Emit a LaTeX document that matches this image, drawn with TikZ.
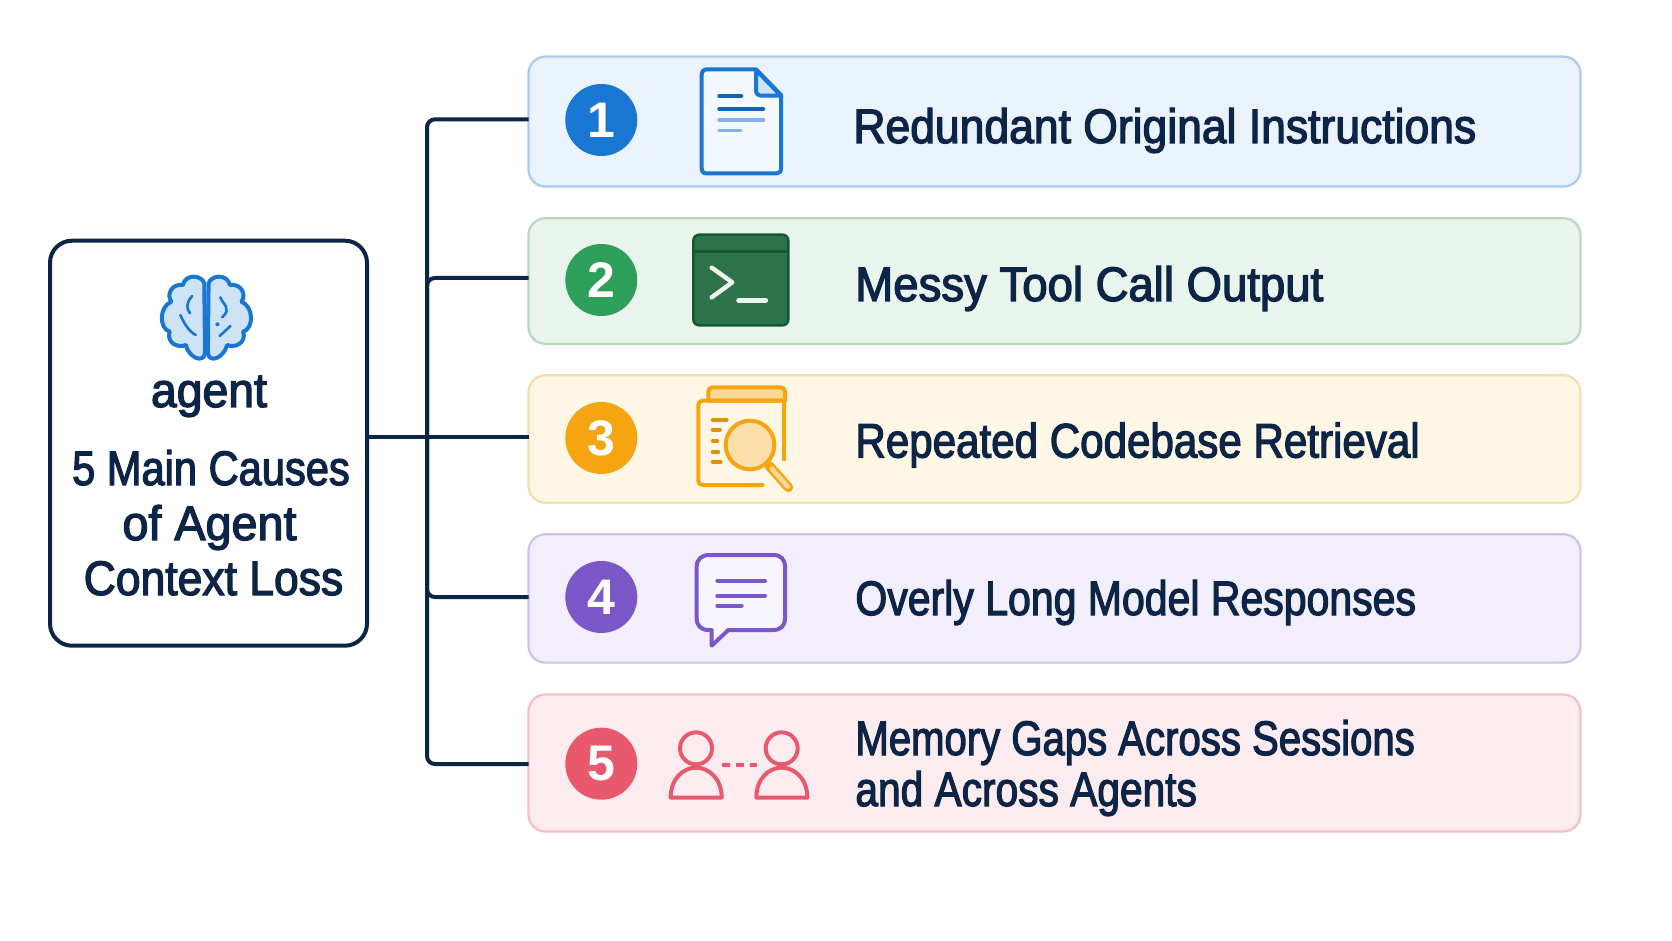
\documentclass[tikz,border=0pt]{standalone}
\usepackage{fontspec}
\setmainfont[FakeBold=2.6,FakeStretch=0.93]{Liberation Sans}
\newfontfamily\numfont{Liberation Sans Bold}
\newcommand{\sx}[2]{\scalebox{#1}[1]{#2}}
\definecolor{navy}{HTML}{0C2547}
\definecolor{brainF}{HTML}{CFE3F7}
\definecolor{termF}{HTML}{2D7248}\definecolor{termS}{HTML}{145A30}\definecolor{termT}{HTML}{EEF6F0}
\definecolor{blueA}{HTML}{1976D2}\definecolor{blueF}{HTML}{EAF3FC}\definecolor{blueS}{HTML}{A9CBEA}
\definecolor{greenA}{HTML}{2E9E5B}\definecolor{greenF}{HTML}{E9F5EC}\definecolor{greenS}{HTML}{B7D8BF}
\definecolor{yelA}{HTML}{F5A50F}\definecolor{yelF}{HTML}{FEF7E6}\definecolor{yelS}{HTML}{F3DEB0}
\definecolor{purA}{HTML}{7B57C8}\definecolor{purF}{HTML}{F2EEFB}\definecolor{purS}{HTML}{CFC3EA}
\definecolor{pinkA}{HTML}{E8596E}\definecolor{pinkF}{HTML}{FDECEF}\definecolor{pinkS}{HTML}{F3BFC8}
\tikzset{
 rowbox/.style={draw=#1S,fill=#1F,line width=1.1pt,rounded corners=8.5pt,minimum width=526pt,inner sep=0pt,outer sep=0pt},
 badge/.style={circle,fill=#1A,minimum size=36pt,inner sep=0pt,text=white,font=\numfont\fontsize{25pt}{25pt}\selectfont},
 rowtext/.style={anchor=base west,inner sep=0pt,text=navy,font=\fontsize{24.2pt}{27pt}\selectfont},
 headtext/.style={anchor=base,inner sep=0pt,text=navy,font=\fontsize{24.2pt}{27pt}\selectfont},
 conn/.style={draw=navy,line width=2pt,rounded corners=4pt},
 icon/.style={line width=2pt,line join=round,line cap=round},
 zoomA/.style={shift={(520,40)},x=0.16667pt,y=-0.16667pt},
 zoomB/.style={shift={(520,360)},x=0.16667pt,y=-0.16667pt},
 zoomC/.style={shift={(520,680)},x=0.16667pt,y=-0.16667pt},
}
\newcommand{\brainlobe}{(572,250) .. controls (565,225) and (520,220) .. (512,255)
 .. controls (480,250) and (465,285) .. (480,305)
 .. controls (445,320) and (445,385) .. (475,395)
 .. controls (465,430) and (500,445) .. (520,435)
 .. controls (530,475) and (570,490) .. (574,460) -- cycle}
\begin{document}
\begin{tikzpicture}[x=0.5pt,y=-0.5pt]
\useasboundingbox[fill=white] (0,0) rectangle (1672,941);
% centre box
\node[draw=navy,line width=2pt,rounded corners=11pt,fill=white,minimum width=158.5pt,minimum height=202.5pt,inner sep=0pt,outer sep=0pt] (cbox) at (208.5,443.2) {};
% rows
\node[rowbox=blue,minimum height=65pt] (r1) at (1054.5,121.6) {};
\node[rowbox=green,minimum height=62.8pt] (r2) at (1054.5,281) {};
\node[rowbox=yel,minimum height=63.8pt] (r3) at (1054.5,439) {};
\node[rowbox=pur,minimum height=64.2pt] (r4) at (1054.5,598.4) {};
\node[rowbox=pink,minimum height=68.5pt] (r5) at (1054.5,763) {};
% connectors
\coordinate (j1) at (427,119.3);
\coordinate (j2) at (427,278);
\coordinate (j3) at (427,437.4);
\coordinate (j4) at (427,597);
\coordinate (j5) at (427,764);
\draw[conn] (r1.west |- j1) -- (j1) -- (j5) -- (r5.west |- j5);
\draw[conn] (r2.west |- j2) -- (j2) -- (j3);
\draw[conn] (r4.west |- j4) -- (j4) -- (j3);
\draw[conn] (cbox.east |- j3) -- (r3.west |- j3);
% badges
\node[badge=blue] (b1) at (601.3,120) {\raisebox{-0.8pt}{1}};
\node[badge=green] (b2) at (601.3,280) {\raisebox{-0.8pt}{2}};
\node[badge=yel] (b3) at (601.3,438) {\raisebox{-0.8pt}{3}};
\node[badge=pur] (b4) at (601.3,597) {\raisebox{-0.8pt}{4}};
\node[badge=pink] (b5) at (601.3,763.7) {\raisebox{-0.8pt}{5}};
% texts
\node[headtext] (tagent) at (209,407) {\sx{1.03}{agent}};
\node[headtext] (th1) at (211,485) {\sx{0.925}{5 Main Causes}};
\node[headtext] (th2) at (209.5,540) {\sx{1.038}{of Agent}};
\node[headtext] (th3) at (213.5,595) {\sx{0.988}{Context Loss}};
\node[rowtext] (t1) at (853,143) {\sx{0.988}{Redundant Original Instructions}};
\node[rowtext] (t2) at (855,301) {\sx{1.011}{Messy Tool Call Output}};
\node[rowtext] (t3) at (855,457.5) {\sx{0.936}{Repeated Codebase Retrieval}};
\node[rowtext] (t4) at (855,615) {\sx{0.911}{Overly Long Model Responses}};
\node[rowtext] (t5a) at (855,755) {\sx{0.891}{Memory Gaps Across Sessions}};
\node[rowtext] (t5b) at (855,806) {\sx{0.904}{and Across Agents}};
% brain
\begin{scope}[shift={(0,200)},x=0.17857pt,y=-0.16667pt]
 \draw[icon,draw=blueA,fill=brainF] \brainlobe;
 \begin{scope}[shift={(1156,0)},x=-0.17857pt]
  \draw[icon,draw=blueA,fill=brainF] \brainlobe;
 \end{scope}
 \draw[icon,draw=blueA,line width=1.3pt] (538,288) .. controls (520,310) and (522,325) .. (532,340);
 \draw[icon,draw=blueA,line width=1.3pt] (505,345) .. controls (515,370) and (530,395) .. (548,405);
 \draw[icon,draw=blueA,line width=1.3pt] (617,292) .. controls (625,315) and (650,325) .. (622,352);
 \draw[icon,draw=blueA,line width=1.3pt] (645,378) -- (615,408);
 \fill[blueA] (609,373) circle[radius=6];
\end{scope}
% document
\begin{scope}[zoomA]
 \draw[icon,draw=blueA,fill=blueF!60!white] (562,88) -- (708,88) -- (783,165) -- (783,385) .. controls (783,395) and (778,400) .. (770,400) -- (560,400) .. controls (550,400) and (545,395) .. (545,385) -- (545,105) .. controls (545,95) and (550,88) .. (562,88) -- cycle;
 \draw[icon,draw=blueA,fill=brainF] (708,90) -- (708,150) .. controls (708,162) and (715,167) .. (725,167) -- (783,167) -- cycle;
 \draw[line width=1.7pt,line cap=round,draw=blueA!85!black] (597,168) -- (665,168);
 \draw[line width=1.7pt,line cap=round,draw=blueA!85!black] (597,207) -- (730,207);
 \draw[line width=1.7pt,line cap=round,draw=blueA!55!white] (597,240) -- (730,240);
 \draw[line width=1.7pt,line cap=round,draw=blueA!55!white] (597,271) -- (662,271);
 % terminal
 \draw[line width=1.3pt,draw=termS,fill=termF,rounded corners=3pt] (520,584) rectangle (805,856);
 \draw[line width=1.3pt,draw=termS] (522,635) -- (803,635);
 \draw[line width=2.2pt,line cap=round,line join=round,draw=termT] (575,683) -- (637,727) -- (575,772);
 \draw[line width=2.8pt,line cap=round,draw=termT] (657,782) -- (736,782);
\end{scope}
% codebase search
\begin{scope}[zoomB]
 \draw[icon,draw=yelA,fill=yelA!45!white] (565,122) -- (565,95) .. controls (565,87) and (570,82) .. (578,82) -- (782,82) .. controls (790,82) and (795,87) .. (795,95) -- (795,122) -- cycle;
 \draw[icon,draw=yelA] (793,122) -- (793,298);
 \draw[icon,draw=yelA] (790,122) -- (548,122) .. controls (540,122) and (535,127) .. (535,135) -- (535,362) .. controls (535,370) and (540,375) .. (548,375) -- (728,375);
 \foreach \xa/\ya in {620/180,600/209,592/243,595/275,602/305}
  \draw[line width=1.9pt,line cap=round,draw=yelA!90!black] (578,\ya) -- (\xa,\ya);
 \draw[icon,draw=yelA,fill=yelA!35!white] (690,255) circle[radius=73];
 \draw[line width=4.8pt,line cap=round,draw=yelA] (748,318) -- (805,382);
 \draw[line width=2.4pt,line cap=round,draw=yelA!45!white] (756,327) -- (803,380);
 % speech bubble
 \draw[icon,draw=purA,fill=purF!60!white] (568,585) -- (760,585) .. controls (782,585) and (795,598) .. (795,620) -- (795,775) .. controls (795,797) and (782,810) .. (760,810) -- (625,810) -- (575,857) -- (575,810) -- (565,810) .. controls (543,810) and (530,797) .. (530,775) -- (530,620) .. controls (530,598) and (545,585) .. (568,585) -- cycle;
 \draw[line width=2pt,line cap=round,draw=purA] (592,662) -- (735,662);
 \draw[line width=2pt,line cap=round,draw=purA] (592,707) -- (735,707);
 \draw[line width=2pt,line cap=round,draw=purA] (592,737) -- (665,737);
\end{scope}
% users
\begin{scope}[zoomC]
 \foreach \dx in {0,257} {
 \begin{scope}[xshift=\dx*0.16667pt]
  \draw[icon,draw=pinkA] (528,205) circle[radius=48];
  \draw[icon,draw=pinkA] (452,353) .. controls (452,295) and (490,263) .. (528,263) .. controls (566,263) and (605,295) .. (605,353) -- cycle;
 \end{scope}}
 \draw[line width=2pt,draw=pinkA] (605,255) -- (630,255) (648,255) -- (672,255) (690,255) -- (712,255);
\end{scope}
\end{tikzpicture}
\end{document}
